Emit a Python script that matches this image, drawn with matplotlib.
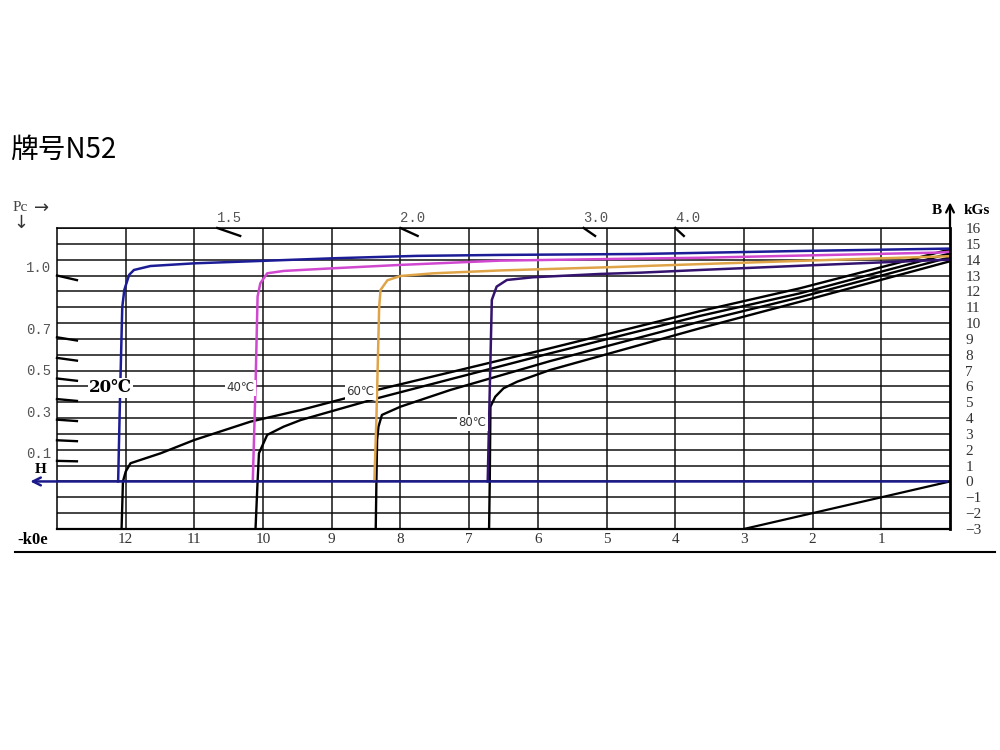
import matplotlib
matplotlib.use("Agg")
import matplotlib.pyplot as plt
from matplotlib.lines import Line2D

# 退磁曲线 N52, H (kOe) / B (kGs)
# intrinsic curves (coloured)
h_j20 = [0, 2.18, 4.51, 6.55, 7.76, 8.97, 10.04, 11.0, 11.64, 11.88, 11.95, 12.02, 12.05, 12.08, 12.11]
b_j20 = [14.7, 14.55, 14.36, 14.3, 14.24, 14.09, 13.92, 13.77, 13.6, 13.35, 13.04, 12.09, 11.0, 5.8, 0]
h_j40 = [0, 0.15, 3.64, 4.51, 6.55, 8.0, 8.97, 9.70, 9.94, 10.04, 10.08, 10.11, 10.15]
b_j40 = [14.5, 14.45, 14.12, 14.07, 13.94, 13.67, 13.46, 13.29, 13.14, 12.51, 11.67, 6.0, 0]
h_j60 = [0, 2.0, 3.64, 5.0, 6.55, 7.52, 8.0, 8.19, 8.29, 8.31, 8.35, 8.38]
b_j60 = [14.22, 13.95, 13.72, 13.52, 13.32, 13.14, 12.97, 12.7, 12.09, 11.0, 4.0, 0]
h_j80 = [0, 0.15, 2.0, 3.64, 4.51, 5.09, 6.07, 6.45, 6.6, 6.67, 6.70, 6.73]
b_j80 = [14.0, 13.98, 13.65, 13.35, 13.18, 13.1, 12.89, 12.72, 12.3, 11.46, 5.78, 0]

# normal curves (black)
h_b20 = [0, 2.18, 3.64, 5.82, 8.34, 9.45, 10.18, 11.0, 11.49, 11.93, 12.0, 12.04, 12.06]
b_b20 = [14.65, 12.2, 10.75, 8.41, 5.78, 4.51, 3.78, 2.62, 1.78, 1.15, 0.62, 0, -3]
h_b40 = [0, 2.18, 3.64, 5.82, 8.34, 9.45, 9.70, 9.94, 10.06, 10.08, 10.11]
b_b40 = [14.4, 11.88, 10.45, 8.09, 5.25, 3.88, 3.46, 2.94, 1.78, 0, -3]
h_b60 = [0, 2.18, 3.64, 5.82, 7.27, 8.0, 8.27, 8.32, 8.34, 8.35, 8.36]
b_b60 = [14.15, 11.63, 10.09, 7.6, 5.78, 4.72, 4.2, 3.46, 2.62, 0, -3]
h_b80 = [0, 2.18, 3.64, 5.82, 6.30, 6.5, 6.62, 6.69, 6.70, 6.71]
b_b80 = [13.9, 11.35, 9.67, 7.04, 6.3, 5.88, 5.35, 4.72, 0, -3]

# B = -H line
h_mu = [0, 3]
b_mu = [0, -3]

# permeance coefficient marks
pc_left = [1.0, 0.7, 0.6, 0.5, 0.4, 0.3, 0.2, 0.1]
pc_left_lab = [1.0, 0.7, 0.5, 0.3, 0.1]
pc_top = [1.5, 2.0, 3.0, 4.0]

temps = ["20℃", "40℃", "60℃", "80℃"]

fig = plt.figure(figsize=(10, 7.5), dpi=100)
ax = fig.add_axes([0.057, 0.2947, 0.893, 0.4013])

ax.set_xlim(13, 0)
ax.set_ylim(-3, 16)
ax.set_xticks(range(1, 13))
ax.set_yticks(range(-3, 17))
ax.grid(True, color="#111111", lw=1.1)
ax.set_axisbelow(True)
ax.yaxis.tick_right()
ax.tick_params(axis="y", length=0, pad=11, labelsize=11)
ax.tick_params(axis="x", length=0, pad=3, labelsize=11)
for lab in ax.get_xticklabels() + ax.get_yticklabels():
    lab.set_family("Liberation Serif")
    lab.set_color("#333333")
for s in ["left", "top"]:
    ax.spines[s].set_linewidth(1.1)
ax.spines["right"].set_linewidth(2.0)
ax.spines["bottom"].set_linewidth(1.6)

# curves
ax.plot(h_b20, b_b20, color="black", lw=1.7)
ax.plot(h_b40, b_b40, color="black", lw=1.7)
ax.plot(h_b60, b_b60, color="black", lw=1.7)
ax.plot(h_b80, b_b80, color="black", lw=1.7)
ax.plot(h_mu, b_mu, color="black", lw=1.6)

ax.plot(h_j20, b_j20, color="#1c1c96", lw=1.8)
ax.plot(h_j40, b_j40, color="#d048d0", lw=1.8)
ax.plot(h_j60, b_j60, color="#e0a448", lw=1.8)
ax.plot(h_j80, b_j80, color="#34136e", lw=1.8)

# H axis arrow (B = 0)
ax.annotate("", xy=(13.43, 0), xytext=(0, 0), annotation_clip=False,
            arrowprops=dict(arrowstyle="->", color="#1a1a8a", lw=1.8, mutation_scale=14))
# B axis arrow
ax.annotate("", xy=(0, 17.8), xytext=(0, 15.9), annotation_clip=False,
            arrowprops=dict(arrowstyle="->", color="black", lw=1.6, mutation_scale=14))

# Pc marks on the left edge and top edge
for pc in pc_left:
    ax.plot([13, 12.71], [pc * 13, pc * 12.71], color="black", lw=1.7, clip_on=False)
for pc in pc_left_lab:
    ax.text(13.45, pc * 13 + 0.45, f"{pc:.1f}", ha="left", va="center", fontsize=10,
            family="Liberation Mono", color="#555555", clip_on=False)
for pc in pc_top:
    ax.plot([16 / pc, 15.5 / pc], [16, 15.5], color="black", lw=1.7, clip_on=False)
    ax.text(16 / pc, 16.2, f"{pc:.1f}", ha="left", va="bottom", fontsize=10,
            family="Liberation Mono", color="#555555", clip_on=False)

# curve labels
box = dict(facecolor="white", edgecolor="none", pad=1)
ax.text(12.22, 5.9, temps[0], ha="center", va="center", fontsize=12, fontweight="bold",
        family=["DejaVu Serif", "Noto Sans CJK SC"], bbox=box)
ax.text(10.33, 5.9, temps[1], ha="center", va="center", fontsize=8.5, color="#333333",
        family=["DejaVu Sans", "Noto Sans CJK SC"], bbox=box)
ax.text(8.58, 5.65, temps[2], ha="center", va="center", fontsize=8.5, color="#333333",
        family=["DejaVu Sans", "Noto Sans CJK SC"], bbox=box)
ax.text(6.95, 3.7, temps[3], ha="center", va="center", fontsize=8.5, color="#333333",
        family=["DejaVu Sans", "Noto Sans CJK SC"], bbox=box)

# axis names
ax.text(0.19, 17.1, "B", ha="center", va="center", fontsize=11, fontweight="bold",
        family="Liberation Serif", clip_on=False)
ax.text(-0.2, 17.1, "kGs", ha="left", va="center", fontsize=11, fontweight="bold",
        family="Liberation Serif", clip_on=False)
ax.text(13.24, 0.75, "H", ha="center", va="center", fontsize=11, fontweight="bold",
        family="Liberation Serif", clip_on=False)
ax.text(13.57, -3.7, "-k0e", ha="left", va="center", fontsize=12, fontweight="bold",
        family="Liberation Serif", clip_on=False)

fig.text(0.013, 0.7227, "Pc", ha="left", va="center", fontsize=11, color="#444444",
         family="Liberation Serif")
fig.text(0.034, 0.7227, "→", ha="left", va="center", fontsize=13, color="#333333",
         family="DejaVu Sans")
fig.text(0.021, 0.703, "↓", ha="center", va="center", fontsize=13, color="#333333",
         family="DejaVu Sans")

fig.text(0.01, 0.80, "牌号N52", ha="left", va="center", fontsize=20, fontweight="medium",
         family=["Noto Sans CJK SC", "DejaVu Sans"])

fig.add_artist(Line2D([0.015, 0.995], [0.264, 0.264], lw=1.5, color="black"))

fig.savefig("out.png", dpi=100, facecolor="white")
